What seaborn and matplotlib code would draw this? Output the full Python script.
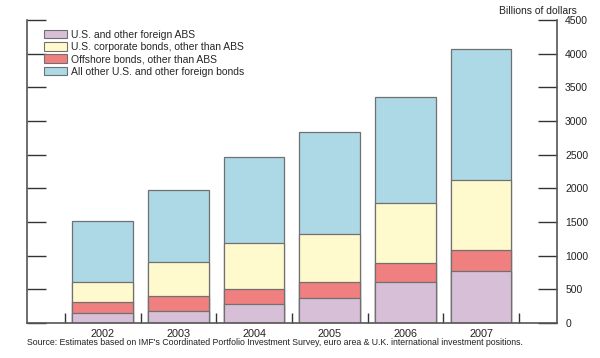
import matplotlib
matplotlib.use("Agg")
import matplotlib.pyplot as plt
import numpy as np
import seaborn as sns
from matplotlib.patches import Patch
from matplotlib.ticker import FixedLocator

years = ["2002", "2003", "2004", "2005", "2006", "2007"]
abs_bonds = [145, 183, 277, 377, 604, 777]
offshore = [162, 222, 233, 237, 282, 303]
corporate = [306, 496, 673, 703, 891, 1039]
all_other = [902, 1069, 1282, 1515, 1579, 1950]

labels = [
    "U.S. and other foreign ABS",
    "U.S. corporate bonds, other than ABS",
    "Offshore bonds, other than ABS",
    "All other U.S. and other foreign bonds",
]
colors = {"abs": "#d8bfd8", "corp": "#fffacd", "off": "#f08080", "other": "#add8e6"}

sns.set_style("white")
plt.rcParams["font.family"] = ["Liberation Sans", "DejaVu Sans"]

fig = plt.figure(figsize=(6, 3.58), dpi=100)
ax = fig.add_axes([0.045, 0.0978, 0.883, 0.846])

# cumulative layers, stacked bottom-up: ABS, offshore, corporate, other
c1 = np.array(abs_bonds)
c2 = c1 + np.array(offshore)
c3 = c2 + np.array(corporate)
c4 = c3 + np.array(all_other)

edge = "#707070"
for vals, col in [(c4, colors["other"]), (c3, colors["corp"]),
                  (c2, colors["off"]), (c1, colors["abs"])]:
    sns.barplot(x=years, y=vals, color=col, saturation=1, width=0.8,
                edgecolor=edge, linewidth=0.9, errorbar=None, ax=ax)

ax.set_xlim(-1, 6)
ax.set_ylim(0, 4500)
ax.set_xlabel("")
ax.set_ylabel("")

# y axis: labels on right, ticks inward on both sides
ax.set_yticks(np.arange(0, 4501, 500))
ax.yaxis.tick_right()
ax.tick_params(axis="y", which="major", left=True, right=True, labelleft=False,
               labelright=True, direction="in", length=14, width=1,
               color="#333333", labelsize=7.5, labelcolor="#222222", pad=6)

# x axis: category labels with no marks, separators as minor ticks
ax.xaxis.set_minor_locator(FixedLocator(np.arange(-0.5, 6, 1)))
ax.tick_params(axis="x", which="major", length=0, labelsize=7.8,
               labelcolor="#222222", pad=4)
ax.tick_params(axis="x", which="minor", bottom=True, direction="in",
               length=7, width=1, color="#333333")

for s in ["left", "right", "bottom"]:
    ax.spines[s].set_visible(True)
    ax.spines[s].set_color("#555555")
    ax.spines[s].set_linewidth(1.2)
ax.spines["top"].set_visible(False)

handles = [
    Patch(facecolor=colors["abs"], edgecolor=edge, linewidth=0.8),
    Patch(facecolor=colors["corp"], edgecolor=edge, linewidth=0.8),
    Patch(facecolor=colors["off"], edgecolor=edge, linewidth=0.8),
    Patch(facecolor=colors["other"], edgecolor=edge, linewidth=0.8),
]
ax.legend(handles, labels, loc="upper left", bbox_to_anchor=(0.025, 0.982),
          frameon=False, fontsize=7.5, handlelength=2.2, handleheight=0.9,
          handletextpad=0.4, labelspacing=0.22, borderaxespad=0)

fig.text(0.962, 0.955, "Billions of dollars", ha="right", va="bottom",
         fontsize=7.5, color="#222222")
fig.text(0.045, 0.03, "Source: Estimates based on IMF's Coordinated Portfolio Investment Survey, "
         "euro area & U.K. international investment positions.",
         ha="left", va="bottom", fontsize=6.3, color="#222222")

fig.savefig("out.png", dpi=100)
